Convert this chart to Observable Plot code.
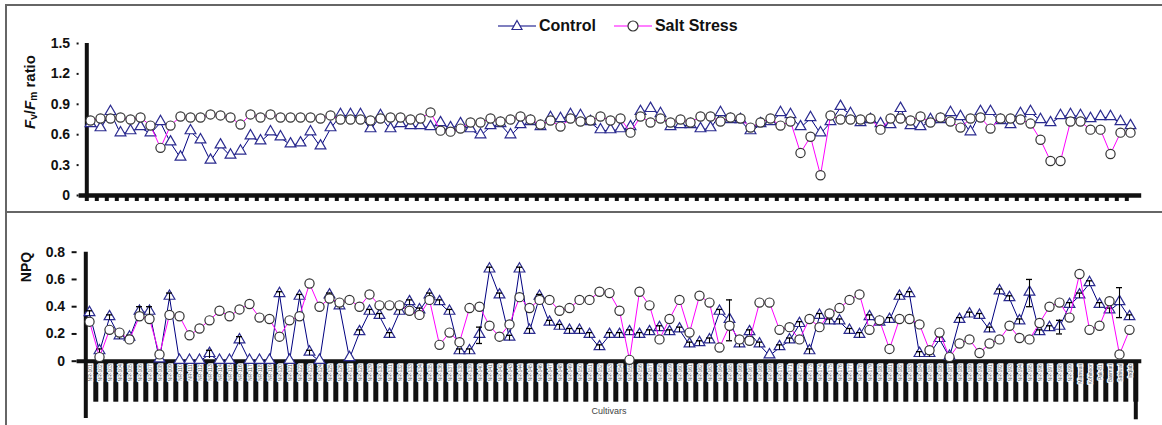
<!DOCTYPE html>
<html><head><meta charset="utf-8">
<script src="https://cdn.jsdelivr.net/npm/d3@7"></script>
<script src="https://cdn.jsdelivr.net/npm/@observablehq/plot@0.6"></script>
<style>
body{margin:0;background:#fff;width:1162px;height:425px;overflow:hidden;position:relative;font-family:"Liberation Sans",Arial,sans-serif;}
#top,#bot{position:absolute;left:0;}
#top{top:0px}
#bot{top:213px}
.bar{position:absolute;background:#666;}
.ytitle{position:absolute;transform:translate(-50%,-50%) rotate(-90deg);white-space:nowrap;font-weight:bold;color:#111;}
.ytitle sub{font-size:68%;vertical-align:-0.25em;}
#legend{position:absolute;left:498px;top:17px;display:flex;align-items:center;font-weight:bold;font-size:16px;color:#111;}
#legend span{margin-right:18px;margin-left:3px;}
#xlabel{position:absolute;left:609px;top:411px;transform:translate(-50%,-50%);font-size:9px;color:#444;}
</style></head>
<body>
<div id="top"></div>
<div id="bot"></div>
<div class="bar" style="left:5px;top:4px;width:1157px;height:2px"></div>
<div class="bar" style="left:5px;top:4px;width:2px;height:421px"></div>
<div class="bar" style="left:5px;top:211px;width:1157px;height:2px"></div>
<div class="ytitle" style="left:30px;top:92px;font-size:15px"><i>F</i><sub>v</sub>/<i>F</i><sub>m</sub> ratio</div>
<div class="ytitle" style="left:26px;top:267px;font-size:14px">NPQ</div>
<div id="legend">
  <svg width="38" height="18"><line x1="0" y1="9" x2="38" y2="9" stroke="#000080" stroke-width="1.2"/><path d="M19,3.5 L24,12.5 L14,12.5 Z" fill="white" stroke="#2b2b8f" stroke-width="1.2"/></svg><span>Control</span>
  <svg width="38" height="18"><line x1="0" y1="9" x2="38" y2="9" stroke="#ff00ff" stroke-width="1.2"/><circle cx="19" cy="9" r="5" fill="white" stroke="#333" stroke-width="1.2"/></svg><span>Salt Stress</span>
</div>
<div id="xlabel">Cultivars</div>
<script>
const cultivars = [
"NR-101","NR-102","NR-103","NR-104","NR-105","NR-106","NR-107","NR-108","NR-109","NR-110",
"NR-111","NR-112","NR-113","NR-114","NR-115","NR-116","NR-117","NR-118","NR-119","NR-120",
"NR-121","NR-122","NR-123","NR-124","NR-125","NR-126","NR-127","NR-128","NR-129","NR-130",
"NR-131","NR-132","NR-133","NR-134","NR-135","NR-136","NR-137","NR-138","NR-139","NR-140",
"NR-141","NR-142","NR-143","NR-144","NR-145","NR-146","NR-147","NR-148","NR-149","NR-150",
"NR-151","NR-152","NR-153","NR-154","NR-155","NR-156","NR-157","NR-158","NR-159","NR-160",
"NR-161","NR-162","NR-163","NR-164","NR-165","NR-166","NR-167","NR-168","NR-169","NR-170",
"NR-171","NR-172","NR-173","NR-174","NR-175","NR-176","NR-177","NR-178","NR-179","NR-180",
"NR-181","NR-182","NR-183","NR-184","NR-185","NR-186","NR-187","NR-188","NR-189","NR-190",
"NR-191","NR-192","NR-193","NR-194","NR-195","NR-196","NR-197","NR-198","NR-199","Mianwali",
"Kohinoor","Pak-81","Basmati","Sahiwal","Inqlab"];

const fvTicks = [0, 0.3, 0.6, 0.9, 1.2, 1.5];
const npqTicks = [0, 0.2, 0.4, 0.6, 0.8];

const fvControl = [
0.70,0.66,0.82,0.61,0.63,0.67,0.61,0.72,0.52,0.37,
0.63,0.54,0.34,0.49,0.39,0.43,0.58,0.53,0.62,0.57,
0.50,0.51,0.62,0.48,0.66,0.79,0.79,0.79,0.65,0.78,
0.65,0.70,0.68,0.68,0.67,0.71,0.66,0.70,0.65,0.59,
0.68,0.70,0.59,0.69,0.72,0.67,0.76,0.75,0.79,0.78,
0.72,0.64,0.64,0.65,0.67,0.82,0.85,0.80,0.67,0.69,
0.69,0.65,0.66,0.81,0.74,0.74,0.63,0.70,0.72,0.81,
0.79,0.67,0.76,0.61,0.72,0.87,0.80,0.71,0.74,0.70,
0.69,0.85,0.68,0.67,0.74,0.74,0.81,0.77,0.62,0.82,
0.82,0.73,0.69,0.80,0.82,0.74,0.71,0.78,0.79,0.78,
0.75,0.77,0.77,0.72,0.68];

const fvSalt = [
0.74,0.76,0.76,0.77,0.75,0.77,0.69,0.47,0.69,0.78,
0.77,0.77,0.80,0.79,0.77,0.70,0.80,0.77,0.80,0.77,
0.77,0.77,0.77,0.76,0.79,0.75,0.75,0.75,0.74,0.76,
0.77,0.77,0.75,0.76,0.82,0.64,0.63,0.66,0.72,0.72,
0.76,0.73,0.75,0.78,0.75,0.70,0.74,0.68,0.76,0.73,
0.74,0.78,0.74,0.76,0.62,0.78,0.72,0.76,0.72,0.75,
0.72,0.78,0.78,0.73,0.77,0.76,0.67,0.72,0.76,0.69,
0.73,0.42,0.58,0.20,0.79,0.75,0.75,0.75,0.76,0.65,
0.76,0.76,0.74,0.78,0.72,0.77,0.73,0.67,0.76,0.77,
0.66,0.76,0.76,0.75,0.71,0.55,0.34,0.34,0.73,0.73,
0.65,0.65,0.41,0.62,0.62];

const npqControl = [
0.35,0.07,0.32,0.18,0.17,0.36,0.36,0.01,0.47,0.00,
0.00,0.00,0.05,0.00,0.00,0.15,0.00,0.00,0.00,0.49,
0.00,0.47,0.06,0.00,0.48,0.40,0.02,0.21,0.36,0.33,
0.19,0.36,0.43,0.37,0.48,0.43,0.36,0.07,0.07,0.19,
0.67,0.48,0.17,0.67,0.22,0.47,0.28,0.25,0.22,0.22,
0.19,0.10,0.19,0.19,0.21,0.19,0.21,0.24,0.21,0.23,
0.12,0.13,0.15,0.36,0.30,0.12,0.21,0.12,0.04,0.10,
0.15,0.27,0.07,0.33,0.29,0.29,0.22,0.19,0.32,0.28,
0.30,0.47,0.49,0.05,0.05,0.16,0.03,0.30,0.34,0.33,
0.23,0.51,0.46,0.29,0.50,0.21,0.24,0.25,0.41,0.48,
0.57,0.41,0.37,0.43,0.32];

const npqControlErr = [
0.02,0.02,0.02,0.02,0.02,0.04,0.04,0.00,0.03,0.00,
0.00,0.00,0.03,0.00,0.00,0.03,0.00,0.00,0.00,0.02,
0.00,0.02,0.02,0.00,0.02,0.02,0.00,0.02,0.02,0.02,
0.02,0.02,0.02,0.02,0.02,0.02,0.02,0.02,0.02,0.06,
0.02,0.02,0.02,0.02,0.02,0.02,0.02,0.02,0.02,0.02,
0.02,0.02,0.02,0.02,0.02,0.02,0.02,0.02,0.02,0.02,
0.02,0.02,0.02,0.02,0.15,0.02,0.02,0.02,0.00,0.02,
0.02,0.02,0.02,0.02,0.02,0.02,0.02,0.02,0.02,0.02,
0.02,0.02,0.02,0.02,0.02,0.02,0.00,0.02,0.02,0.02,
0.02,0.02,0.02,0.02,0.10,0.02,0.02,0.05,0.02,0.02,
0.02,0.02,0.02,0.11,0.02];

const npqSalt = [
0.29,0.03,0.23,0.21,0.16,0.33,0.31,0.05,0.34,0.33,
0.19,0.24,0.30,0.37,0.33,0.38,0.42,0.32,0.31,0.18,
0.30,0.33,0.57,0.40,0.46,0.43,0.45,0.40,0.49,0.41,
0.41,0.41,0.37,0.34,0.45,0.12,0.21,0.14,0.39,0.40,
0.26,0.18,0.27,0.47,0.39,0.45,0.45,0.37,0.39,0.45,
0.45,0.51,0.50,0.37,0.01,0.51,0.41,0.16,0.31,0.45,
0.21,0.48,0.43,0.10,0.26,0.16,0.15,0.43,0.43,0.23,
0.25,0.16,0.31,0.25,0.35,0.39,0.45,0.49,0.23,0.30,
0.09,0.31,0.31,0.27,0.08,0.21,0.03,0.13,0.16,0.06,
0.13,0.16,0.26,0.17,0.16,0.28,0.40,0.43,0.32,0.64,
0.23,0.26,0.44,0.05,0.23];

const NAVY = "#000080", TRI = "#2b2b8f", MAG = "#ff00ff", CIRC = "#333333";
const FONT = "'Liberation Sans', Arial, sans-serif";
const fmt = d => String(d);

const topData = cultivars.map((c, i) => ({c, control: fvControl[i], salt: fvSalt[i]}));
const botData = cultivars.map((c, i) => ({c, control: npqControl[i], err: npqControlErr[i], salt: npqSalt[i]}));

const topPlot = Plot.plot({
  width: 1162, height: 212,
  marginLeft: 78.6, marginRight: 20.8, marginTop: 43, marginBottom: 17,
  x: {type: "band", domain: cultivars, padding: 0},
  y: {domain: [0, 1.5], label: null},
  style: {fontFamily: FONT, background: "transparent", overflow: "visible", color: "#111"},
  marks: [
    Plot.axisY({ticks: fvTicks, tickFormat: fmt, tickSize: 2, tickPadding: 7, fontSize: 14, fontWeight: "bold", label: null, strokeWidth: 2}),
    Plot.axisX({tickSize: 6, strokeWidth: 4, dx: -3.7, tickFormat: () => "", label: null}),
    Plot.ruleY([0], {strokeWidth: 4.5}),
    Plot.ruleX([cultivars[0]], {x: d => d, dx: -3.7, y1: 0, y2: 1.5, strokeWidth: 4}),
    Plot.line(topData, {x: "c", y: "control", stroke: NAVY, strokeWidth: 1}),
    Plot.dot(topData, {x: "c", y: "control", symbol: "triangle", r: 4, stroke: TRI, fill: "white", strokeWidth: 1.2, dy: -1}),
    Plot.line(topData, {x: "c", y: "salt", stroke: MAG, strokeWidth: 1}),
    Plot.dot(topData, {x: "c", y: "salt", r: 4.6, stroke: CIRC, fill: "white", strokeWidth: 1.2})
  ]
});
document.getElementById("top").append(topPlot);

const errData = botData.filter(d => d.err > 0);
const botPlot = Plot.plot({
  width: 1162, height: 212,
  marginLeft: 76.6, marginRight: 20.7, marginTop: 38.7, marginBottom: 64.3,
  x: {type: "band", domain: cultivars, padding: 0},
  y: {domain: [0, 0.8], label: null},
  style: {fontFamily: FONT, background: "transparent", overflow: "visible", color: "#111"},
  marks: [
    Plot.axisY({ticks: npqTicks, tickFormat: fmt, tickSize: 5, tickPadding: 7, fontSize: 14, fontWeight: "bold", label: null, strokeWidth: 2}),
    Plot.axisX({tickSize: 41, strokeWidth: 5, dx: 6.3, tickFormat: () => "", label: null}),
    Plot.text(cultivars, {x: d => d, frameAnchor: "bottom", dy: 3, dx: 1.3, rotate: -90, textAnchor: "end", lineAnchor: "middle", fontSize: 5, fill: "#555", stroke: "white", strokeWidth: 2.2}),
    Plot.ruleY([0], {strokeWidth: 4}),
    Plot.ruleX([cultivars[0]], {x: d => d, dx: -3.7, y1: 0.8, y2: -0.42, strokeWidth: 4}),
    Plot.ruleX([cultivars[cultivars.length - 1]], {x: d => d, dx: 6.3, y1: 0, y2: -0.43, strokeWidth: 4}),
    Plot.line(botData, {x: "c", y: "control", stroke: NAVY, strokeWidth: 1}),
    Plot.dot(botData, {x: "c", y: "control", symbol: "triangle", r: 4, stroke: TRI, fill: "white", strokeWidth: 1.2, dy: -1}),
    Plot.ruleX(errData, {x: "c", y1: d => d.control - d.err, y2: d => d.control + d.err, stroke: "black", strokeWidth: 1.1}),
    Plot.tickY(errData, {x: "c", y: d => d.control + d.err, stroke: "black", strokeWidth: 1.3, insetLeft: 2, insetRight: 2}),
    Plot.tickY(errData.filter(d => d.err > 0.03), {x: "c", y: d => d.control - d.err, stroke: "black", strokeWidth: 1.3, insetLeft: 2, insetRight: 2}),
    Plot.line(botData, {x: "c", y: "salt", stroke: MAG, strokeWidth: 1}),
    Plot.dot(botData, {x: "c", y: "salt", r: 4.6, stroke: CIRC, fill: "white", strokeWidth: 1.2})
  ]
});
document.getElementById("bot").append(botPlot);
</script>
</body></html>
